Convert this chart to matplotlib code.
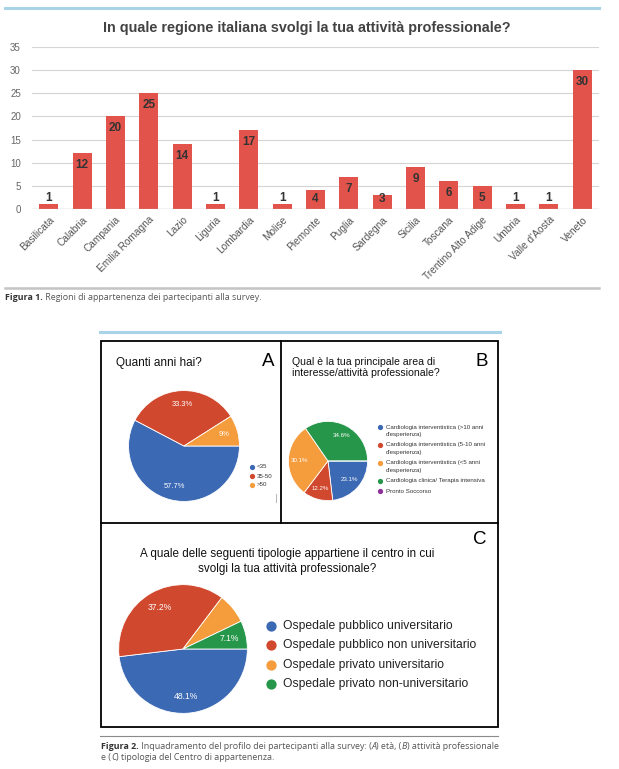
import matplotlib
matplotlib.use('Agg')
import matplotlib.pyplot as plt
from matplotlib.patches import Rectangle

# ---- Figura 1 data ----
regions = ['Basilicata', 'Calabria', 'Campania', 'Emilia Romagna', 'Lazio', 'Liguria',
           'Lombardia', 'Molise', 'Piemonte', 'Puglia', 'Sardegna', 'Sicilia', 'Toscana',
           'Trentino Alto Adige', 'Umbria', "Valle d'Aosta", 'Veneto']
region_counts = [1, 12, 20, 25, 14, 1, 17, 1, 4, 7, 3, 9, 6, 5, 1, 1, 30]

# ---- Figura 2 data ----
age_labels = ['<35', '35-50', '>50']
age_pct = [57.7, 33.3, 9.0]

area_labels = ["Cardiologia interventistica (>10 anni\nd'esperienza)",
               "Cardiologia interventistica (5-10 anni\nd'esperienza)",
               "Cardiologia interventistica (<5 anni\nd'esperienza)",
               "Cardiologia clinica/ Terapia intensiva",
               "Pronto Soccorso"]
area_pct = [23.1, 12.2, 30.1, 34.6, 0.0]

centre_labels = ['Ospedale pubblico universitario', 'Ospedale pubblico non universitario',
                 'Ospedale privato universitario', 'Ospedale privato non-universitario']
centre_pct = [48.1, 37.2, 7.6, 7.1]

pie_colors = ['#3b69b4', '#d0482d', '#f59c3c', '#26964a', '#8f2f9b']
bar_color = '#e2534b'

W, H = 619, 769
SANS = 'Liberation Sans'
CAP = 'Open Sans'

fig = plt.figure(figsize=(W / 100, H / 100), dpi=100)

# overlay in pixel coordinates for frames, rules and free text
ov = fig.add_axes([0, 0, 1, 1])
ov.set_xlim(0, W)
ov.set_ylim(H, 0)
ov.axis('off')
renderer = fig.canvas.get_renderer()


def px_axes(x0, y0, x1, y1):
    return fig.add_axes([x0 / W, 1 - y1 / H, (x1 - x0) / W, (y1 - y0) / H])


# ---------------- Figura 1: bar chart ----------------
ax = px_axes(32, 47, 599, 209)
xs = list(range(len(regions)))
ax.bar(xs, region_counts, width=0.57, color=bar_color, zorder=2)
ax.set_xlim(-0.5, len(regions) - 0.5)
ax.set_ylim(0, 35)
ax.set_yticks(range(0, 36, 5))
ax.tick_params(axis='y', length=0, pad=8, labelsize=7, labelcolor='#666666')
ax.set_xticks(xs)
ax.set_xticklabels(regions, rotation=45, ha='right', rotation_mode='anchor',
                   fontsize=7.3, color='#555555', family=SANS)
for lab in ax.get_yticklabels():
    lab.set_family(SANS)
ax.tick_params(axis='x', length=0, pad=4)
ax.grid(axis='y', color='#d4d4d4', lw=0.8, zorder=0)
ax.set_axisbelow(True)
for s in ax.spines.values():
    s.set_visible(False)
ax.axhline(0, color='#b0b0b0', lw=0.9, zorder=3)

for i, v in enumerate(region_counts):
    if v >= 3:
        y = max(v - 2.6, 2.2)
    else:
        y = v + 1.4
    ax.text(i, y, str(v), ha='center', va='center', fontsize=8.5, fontweight='bold',
            color='#333333', family=SANS, zorder=4)

fig.text(0.495, 1 - 28 / H, 'In quale regione italiana svolgi la tua attività professionale?',
         ha='center', va='center', fontsize=10.4, fontweight='bold', color='#434343', family=SANS)

# rules
ov.plot([5, 599], [8, 8], color='#a9d3e6', lw=2.2)
ov.plot([5, 599], [288, 288], color='#c4c4c4', lw=1.8)
ov.plot([100, 500], [332, 332], color='#a9d3e6', lw=2.2)
ov.plot([100, 498], [736, 736], color='#8a8a8a', lw=0.8)

# ---------------- captions ----------------
def seg_width(s, **kw):
    t1 = ov.text(0, 0, 'x' + s + 'x', **kw)
    t2 = ov.text(0, 0, 'xx', **kw)
    w = t1.get_window_extent(renderer).width - t2.get_window_extent(renderer).width
    t1.remove()
    t2.remove()
    return w


def rich_line(x, y, parts, size=6.4):
    for s, style in parts:
        kw = dict(fontsize=size, family=CAP, va='baseline', color='#555555')
        if style == 'b':
            kw.update(fontweight='bold', color='#333333')
        elif style == 'i':
            kw.update(style='italic')
        ov.text(x, y, s, **kw)
        x += seg_width(s, **kw)


rich_line(5, 300, [('Figura 1.', 'b'), (' Regioni di appartenenza dei partecipanti alla survey.', 'r')])
rich_line(101, 749, [('Figura 2.', 'b'), (' Inquadramento del profilo dei partecipanti alla survey: (', 'r'),
                     ('A', 'i'), (') età, (', 'r'), ('B', 'i'), (') attività professionale', 'r')])
rich_line(101, 760, [('e (', 'r'), ('C', 'i'), (') tipologia del Centro di appartenenza.', 'r')])

# ---------------- Figura 2 frame ----------------
ov.add_patch(Rectangle((101, 341), 397, 386, fill=False, ec='black', lw=1.3))
ov.plot([101, 498], [523, 523], color='black', lw=1.3)
ov.plot([281, 281], [341, 523], color='black', lw=1.3)
ov.plot([276, 276], [494, 502], color='#bbbbbb', lw=0.8)  # small mark left in panel A


def fmt_pct(p):
    s = f'{p:.1f}'
    if s.endswith('.0'):
        s = s[:-2]
    return s + '%' if p > 0 else ''


def draw_pie(cx, cy, r, values, pct_text, dist, size):
    pa = px_axes(cx - r, cy - r, cx + r, cy + r)
    wedges, _, autotexts = pa.pie(values, colors=pie_colors[:len(values)], startangle=0,
                                  counterclock=False, autopct='%1.1f%%', pctdistance=dist,
                                  wedgeprops=dict(edgecolor='white', linewidth=0.6),
                                  textprops=dict(color='white', fontsize=size, family=SANS))
    for t, s in zip(autotexts, pct_text):
        t.set_text(s)
    pa.set_xlim(-1.01, 1.01)
    pa.set_ylim(-1.01, 1.01)
    return pa


# Panel A
draw_pie(184, 446, 56, age_pct, [fmt_pct(p) for p in age_pct], 0.75, 5.4)
ov.text(116, 363, 'Quanti anni hai?', fontsize=8.5, family=SANS, va='center', color='#111111')
ov.text(268, 362, 'A', fontsize=13.5, family=SANS, ha='center', va='center')
for k, lab in enumerate(age_labels):
    y = 467 + k * 9
    ov.plot(252, y, 'o', ms=3.8, color=pie_colors[k], mec='none')
    ov.text(256.5, y, lab, fontsize=4.4, family=SANS, va='center', color='#333333')

# Panel B
draw_pie(328, 461, 40, area_pct, [fmt_pct(p) for p in area_pct], 0.72, 4.4)
ov.text(292, 362, 'Qual è la tua principale area di', fontsize=7.6, family=SANS, va='center',
        color='#111111')
ov.text(292, 373, 'interesse/attività professionale?', fontsize=7.6, family=SANS, va='center',
        color='#111111')
ov.text(482, 362, 'B', fontsize=13.5, family=SANS, ha='center', va='center')
y = 427
for k, lab in enumerate(area_labels):
    ov.plot(380, y, 'o', ms=3.8, color=pie_colors[k], mec='none')
    lines = lab.split('\n')
    for j, line in enumerate(lines):
        ov.text(386, y + j * 7.3, line, fontsize=4.4, family=SANS, va='center', color='#333333')
    y += len(lines) * 7.3 + 3.3

# Panel C
centre_text = [fmt_pct(p) for p in centre_pct]
centre_text[2] = ''  # the orange slice carries no label in the original
draw_pie(183, 649, 65, centre_pct, centre_text, 0.74, 6.2)
ov.text(287, 554, 'A quale delle seguenti tipologie appartiene il centro in cui', fontsize=8.4,
        family=SANS, ha='center', va='center', color='#111111')
ov.text(287, 569, 'svolgi la tua attività professionale?', fontsize=8.4, family=SANS,
        ha='center', va='center', color='#111111')
ov.text(480, 539, 'C', fontsize=13.5, family=SANS, ha='center', va='center')
for k, lab in enumerate(centre_labels):
    y = 626 + k * 19.3
    ov.plot(271, y, 'o', ms=7.4, color=pie_colors[k], mec='none')
    ov.text(283, y, lab, fontsize=8.7, family=SANS, va='center', color='#222222')

fig.savefig('out.png', dpi=100)
